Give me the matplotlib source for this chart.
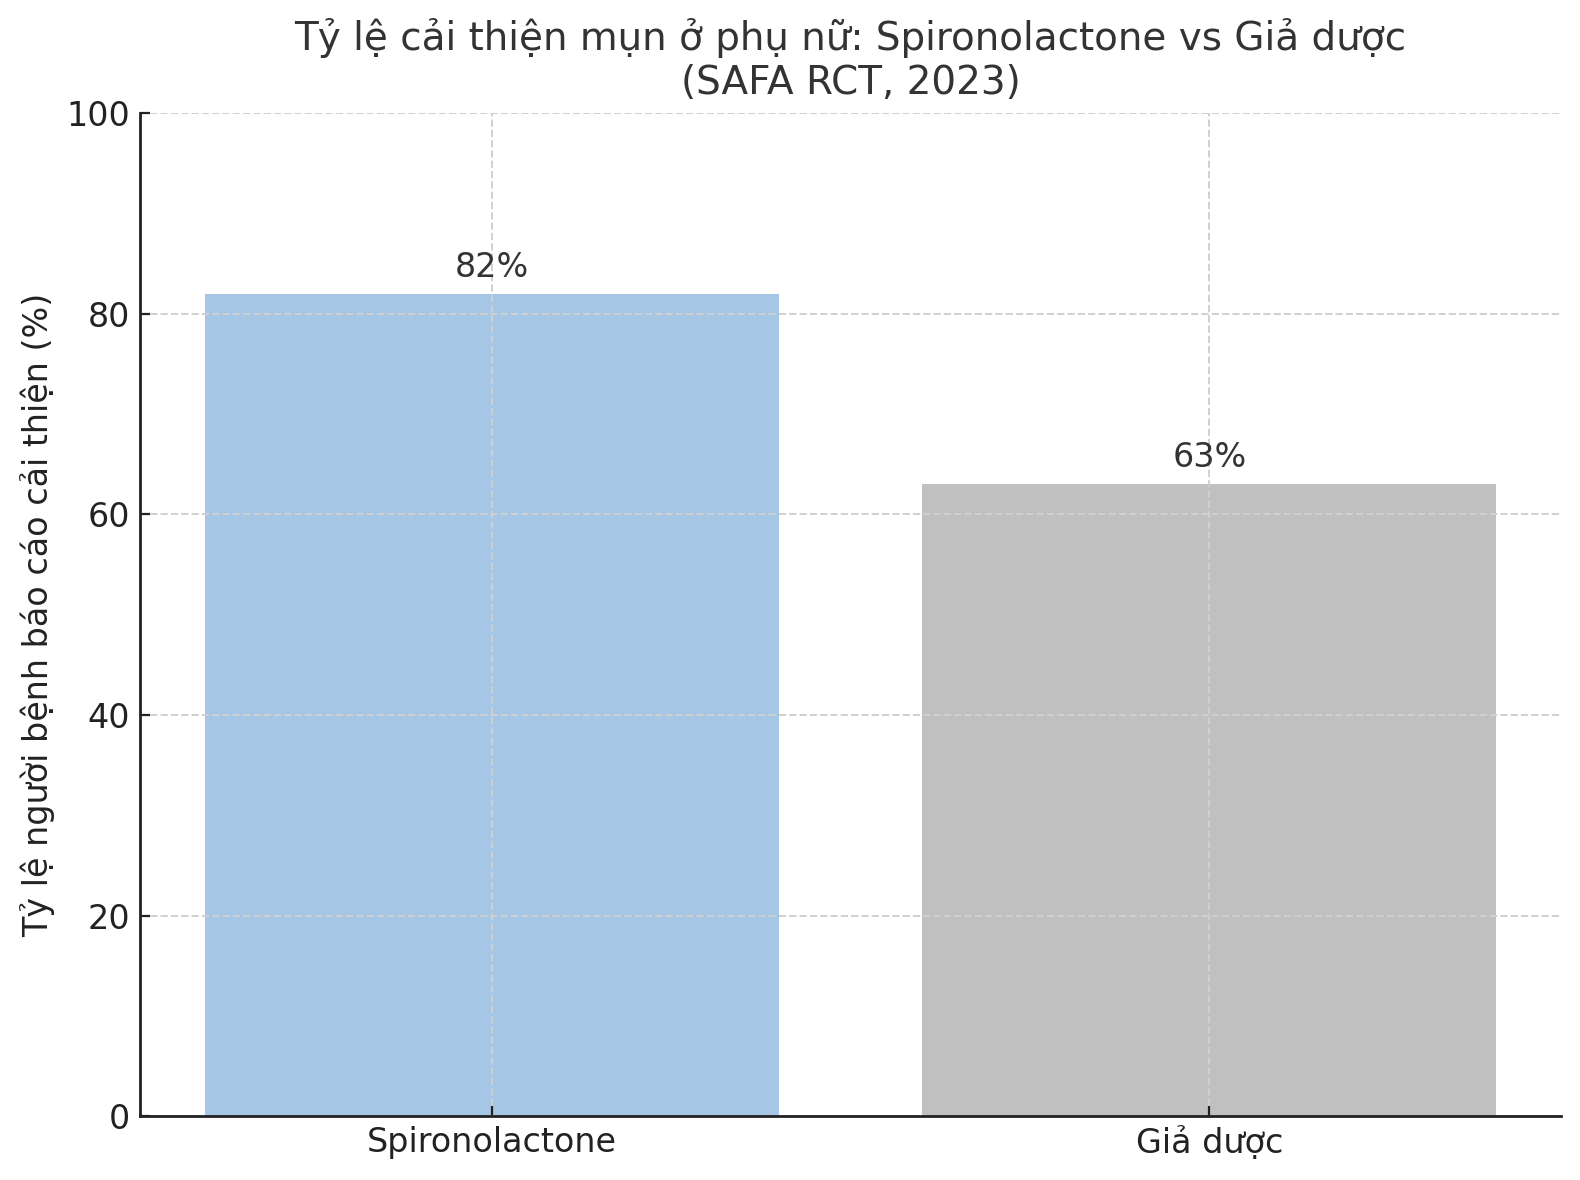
import matplotlib
matplotlib.use("Agg")
import matplotlib.pyplot as plt

# dữ liệu
nhom = ["Spironolactone", "Giả dược"]
ty_le = [82, 63]
mau = ["#a6c6e5", "#c0c0c0"]

plt.rcParams['font.family'] = ['DejaVu Sans']

fig, ax = plt.subplots(figsize=(7.9, 5.9), dpi=200)
bars = ax.bar(nhom, ty_le, color=mau, width=0.8)

for b, v in zip(bars, ty_le):
    ax.text(b.get_x() + b.get_width() / 2, v + 1.0, f"{v}%",
            ha="center", va="bottom", fontsize=12, color="#333333")

ax.set_ylim(0, 100)
ax.set_ylabel("Tỷ lệ người bệnh báo cáo cải thiện (%)", fontsize=12, color="#222222")
ax.set_title("Tỷ lệ cải thiện mụn ở phụ nữ: Spironolactone vs Giả dược\n(SAFA RCT, 2023)",
             fontsize=14, color="#333333", pad=7)
ax.grid(True, linestyle="--", color="#d0d0d0", linewidth=0.7)
ax.spines["top"].set_visible(False)
ax.spines["right"].set_visible(False)
for s in ["left", "bottom"]:
    ax.spines[s].set_linewidth(1.0)
    ax.spines[s].set_color("#222222")
ax.tick_params(labelsize=12, colors="#222222", direction="in")

fig.subplots_adjust(left=0.0886, right=0.988, top=0.904, bottom=0.054)
fig.savefig("out.png", dpi=200)
